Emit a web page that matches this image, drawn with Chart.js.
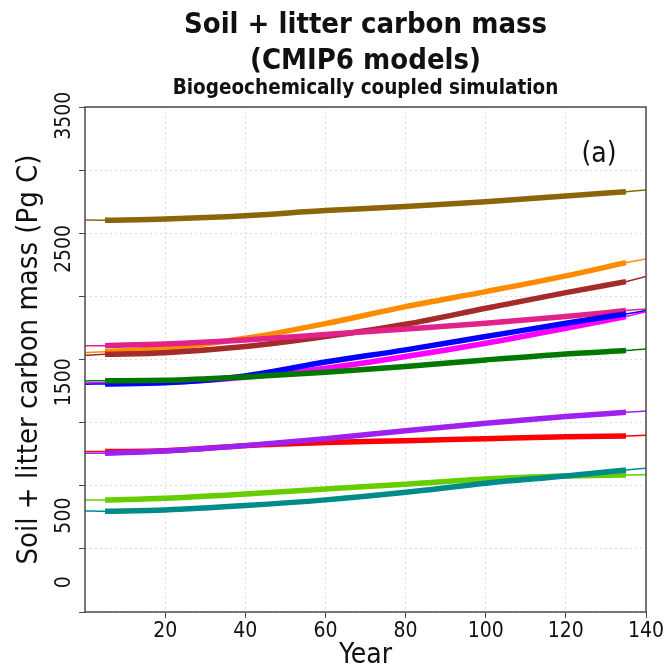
<!DOCTYPE html>
<html>
<head>
<meta charset="utf-8">
<script src="https://cdn.jsdelivr.net/npm/chart.js@4.4.0/dist/chart.umd.min.js"></script>
<style>
  html, body { margin: 0; padding: 0; background: #fff; }
  #wrap { width: 670px; height: 667px; }
</style>
</head>
<body>
<div id="wrap"><canvas id="soilChart" width="670" height="667"></canvas></div>
<script>
const years = [0, 5, 20, 40, 60, 80, 100, 120, 135, 140];

// Soil + litter carbon mass per model (Pg C)
const brownGold = [2718, 2715, 2725, 2750, 2788, 2818, 2855, 2898, 2930, 2943];
const orange    = [1722, 1730, 1755, 1830, 1940, 2068, 2180, 2298, 2398, 2425];
const brown     = [1703, 1710, 1722, 1768, 1843, 1935, 2055, 2173, 2255, 2293];
const pink      = [1775, 1775, 1788, 1818, 1858, 1900, 1943, 1993, 2038, 2050];
const blue      = [1485, 1488, 1497, 1548, 1652, 1743, 1843, 1943, 2013, 2038];
const magenta   = [1495, 1497, 1500, 1538, 1605, 1693, 1793, 1905, 1993, 2030];
const green     = [1510, 1512, 1515, 1540, 1575, 1618, 1668, 1713, 1738, 1750];
const purple    = [968, 968, 985, 1025, 1076, 1137, 1193, 1243, 1275, 1285];
const red       = [980, 980, 987, 1025, 1048, 1062, 1077, 1092, 1097, 1102];
const lime      = [617, 617, 630, 662, 700, 735, 775, 797, 805, 806];
const teal      = [535, 532, 542, 575, 618, 675, 743, 797, 842, 855];

const yLabels = [0, 500, 1500, 2500, 3500];
const titleLines = ['Soil + litter carbon mass', '(CMIP6 models)'];
const subtitle = 'Biogeochemically coupled simulation';
const yTitle = 'Soil + litter carbon mass (Pg C)';
const xTitle = 'Year';
const panelTag = '(a)';

const FONT = '"DejaVu Sans Condensed", "DejaVu Sans", sans-serif';

// draw order: first entry ends up on top
const models = [
    { values: teal, color: '#008B8B' },
    { values: lime, color: '#66CD00' },
    { values: purple, color: '#A020F0' },
    { values: red, color: '#FF0000' },
    { values: green, color: '#007800' },
    { values: blue, color: '#0000FF' },
    { values: magenta, color: '#FF00FF' },
    { values: pink, color: '#E3218B' },
    { values: brown, color: '#A52A2A' },
    { values: orange, color: '#FF8C00' },
    { values: brownGold, color: '#8B6508' }
];

const datasets = [];
models.forEach(function(m, i) {
    const pts = years.map(function(yr, j) { return { x: yr, y: m.values[j] }; });
    // thick smoothed part (inner years)
    datasets.push({
        data: pts.slice(1, pts.length - 1),
        borderColor: m.color,
        borderWidth: 5.5,
        pointRadius: 0,
        cubicInterpolationMode: 'monotone',
        order: i
    });
    // thin full-length line
    datasets.push({
        data: pts,
        borderColor: m.color,
        borderWidth: 1.5,
        pointRadius: 0,
        cubicInterpolationMode: 'monotone',
        order: 100 + i
    });
});

// titles, box, rotated y labels
const decorations = {
    id: 'decorations',
    afterDraw(chart) {
        const ctx = chart.ctx;
        const a = chart.chartArea;
        const yScale = chart.scales.y;
        const cx = (a.left + a.right) / 2;
        ctx.save();

        ctx.strokeStyle = '#4a4a4a';
        ctx.lineWidth = 1.5;
        ctx.strokeRect(a.left, a.top, a.right - a.left, a.bottom - a.top);

        ctx.fillStyle = '#111';
        ctx.textAlign = 'center';
        ctx.textBaseline = 'alphabetic';
        ctx.font = 'bold 29px ' + FONT;
        ctx.fillText(titleLines[0], cx, 33);
        ctx.fillText(titleLines[1], cx, 69);
        ctx.font = 'bold 20.5px ' + FONT;
        ctx.fillText(subtitle, cx, 94);

        ctx.font = '28px ' + FONT;
        ctx.fillText(panelTag, 599, 162);

        ctx.font = '28px ' + FONT;
        ctx.fillText(xTitle, cx, 663);

        // rotated y tick labels
        ctx.font = '21px ' + FONT;
        yLabels.forEach(function(v) {
            ctx.save();
            ctx.translate(70, yScale.getPixelForValue(v));
            ctx.rotate(-Math.PI / 2);
            ctx.fillText(String(v), 0, 0);
            ctx.restore();
        });

        // y axis title
        ctx.save();
        ctx.font = '29px ' + FONT;
        ctx.translate(37, (a.top + a.bottom) / 2);
        ctx.rotate(-Math.PI / 2);
        ctx.fillText(yTitle, 0, 0);
        ctx.restore();

        ctx.restore();
    }
};

const ctx = document.getElementById('soilChart').getContext('2d');
new Chart(ctx, {
    type: 'line',
    data: { datasets: datasets },
    plugins: [decorations],
    options: {
        responsive: false,
        animation: false,
        layout: { padding: { top: 107, right: 24, left: 0, bottom: 0 } },
        plugins: {
            legend: { display: false },
            tooltip: { enabled: false },
            title: { display: false }
        },
        scales: {
            x: {
                type: 'linear',
                min: 0,
                max: 140,
                afterFit: function(scale) { scale.height = 55; },
                ticks: {
                    stepSize: 20,
                    padding: 1,
                    color: '#111',
                    font: { size: 21, family: FONT },
                    callback: function(v) { return v === 0 ? '' : v; }
                },
                grid: {
                    color: function(c) { return c.tick && c.tick.value === 0 ? 'rgba(0,0,0,0)' : '#dcdcdc'; },
                    tickColor: function(c) { return c.tick && c.tick.value === 0 ? 'rgba(0,0,0,0)' : '#4a4a4a'; },
                    tickLength: 6,
                    tickBorderDash: [],
                    lineWidth: 1
                },
                border: { display: false, dash: [2, 3] }
            },
            y: {
                min: -223,
                max: 3565,
                afterFit: function(scale) { scale.width = 85; },
                ticks: {
                    stepSize: 500,
                    includeBounds: false,
                    display: false
                },
                grid: {
                    color: '#dcdcdc',
                    tickColor: '#4a4a4a',
                    tickLength: 6,
                    tickBorderDash: [],
                    lineWidth: 1
                },
                border: { display: false, dash: [2, 3] }
            }
        }
    }
});
</script>
</body>
</html>
